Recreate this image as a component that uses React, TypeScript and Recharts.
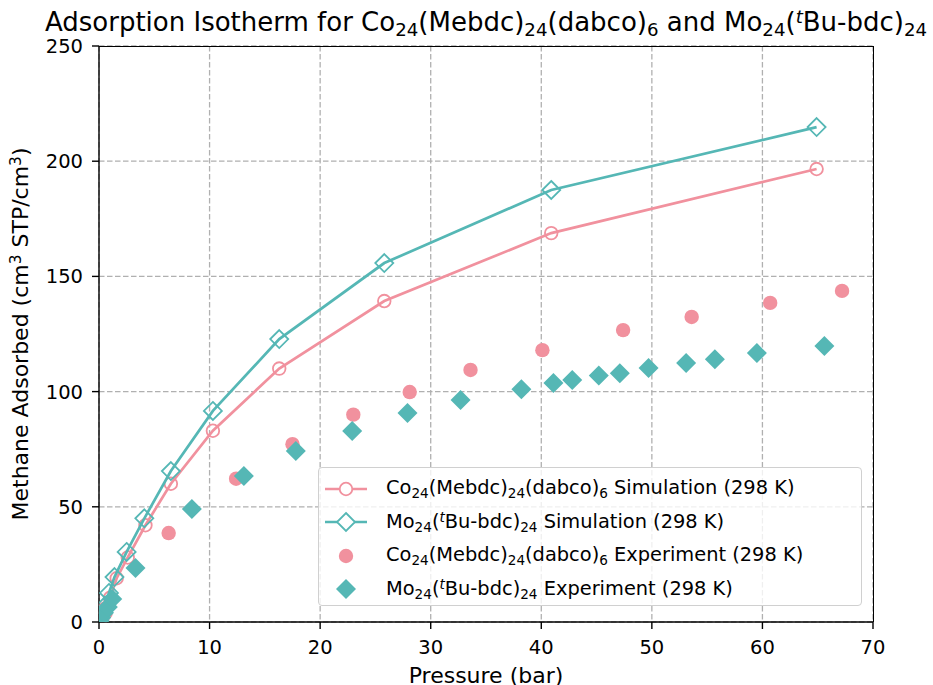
import React from "react";
import { ScatterChart, Scatter, XAxis, YAxis, CartesianGrid } from "recharts";

const PINK = "#F1919E";
const TEAL = "#55B7B5";

const xTicks = [0, 10, 20, 30, 40, 50, 60, 70];
const yTicks = [0, 50, 100, 150, 200, 250];

const coSimP = [0.1, 0.3, 0.6, 1.0, 1.6, 2.6, 4.2, 6.5, 10.3, 16.3, 25.8, 40.9, 64.9];
const coSimV = [1, 3, 6, 10.5, 19, 28, 42, 60, 83, 110, 139.3, 168.8, 196.6];
const moSimP = [0.1, 0.3, 0.55, 0.9, 1.4, 2.5, 4.1, 6.5, 10.3, 16.3, 25.8, 40.9, 64.9];
const moSimV = [1.5, 3.5, 7, 12.6, 19.5, 30.4, 45, 65.5, 91.6, 122.8, 155.8, 187.5, 214.8];
const coExpP = [0.1, 0.3, 0.6, 6.3, 12.4, 17.5, 23.0, 28.1, 33.6, 40.1, 47.4, 53.6, 60.7, 67.2];
const coExpV = [0.5, 2, 4, 38.6, 62.2, 77.2, 90, 99.8, 109.4, 118, 126.7, 132.4, 138.5, 143.7];
const moExpP = [0.05, 0.2, 0.45, 0.8, 1.2, 3.3, 8.4, 13.1, 17.8, 22.9, 27.9, 32.7, 38.2, 41.1, 42.8, 45.2, 47.1, 49.7, 53.1, 55.7, 59.5, 65.6];
const moExpV = [0.5, 2, 4, 6.5, 10, 23.4, 49, 63.4, 74.2, 82.9, 90.7, 96.3, 101, 103.7, 105, 107, 108, 110.2, 112.4, 114, 116.7, 119.8];

const zip = (p: number[], v: number[]) => p.map((x, i) => ({ x, y: v[i] }));
const coSim = zip(coSimP, coSimV);
const moSim = zip(moSimP, moSimV);
const coExp = zip(coExpP, coExpV);
const moExp = zip(moExpP, moExpV);

const FONT = "'DejaVu Sans', sans-serif";

const HollowCircle = (p: any) => (
  <circle cx={p.cx} cy={p.cy} r={6.3} fill="none" stroke={PINK} strokeWidth={1.8} />
);
const HollowDiamond = (p: any) => {
  const r = 9;
  return (
    <polygon
      points={`${p.cx},${p.cy - r} ${p.cx + r},${p.cy} ${p.cx},${p.cy + r} ${p.cx - r},${p.cy}`}
      fill="none"
      stroke={TEAL}
      strokeWidth={1.8}
    />
  );
};
const FilledCircle = (p: any) => <circle cx={p.cx} cy={p.cy} r={7.2} fill={PINK} />;
const FilledDiamond = (p: any) => {
  const r = 10;
  return (
    <polygon
      points={`${p.cx},${p.cy - r} ${p.cx + r},${p.cy} ${p.cx},${p.cy + r} ${p.cx - r},${p.cy}`}
      fill={TEAL}
    />
  );
};

const Sub = ({ children }: { children: React.ReactNode }) => (
  <span style={{ fontSize: "70%", position: "relative", top: "0.3em" }}>{children}</span>
);
const Sup = ({ children }: { children: React.ReactNode }) => (
  <span style={{ fontSize: "70%", position: "relative", top: "-0.45em", fontStyle: "italic" }}>{children}</span>
);

const legendItems = [
  { kind: "co-sim", label: <>Co<Sub>24</Sub>(Mebdc)<Sub>24</Sub>(dabco)<Sub>6</Sub> Simulation (298 K)</> },
  { kind: "mo-sim", label: <>Mo<Sub>24</Sub>(<Sup>t</Sup>Bu-bdc)<Sub>24</Sub> Simulation (298 K)</> },
  { kind: "co-exp", label: <>Co<Sub>24</Sub>(Mebdc)<Sub>24</Sub>(dabco)<Sub>6</Sub> Experiment (298 K)</> },
  { kind: "mo-exp", label: <>Mo<Sub>24</Sub>(<Sup>t</Sup>Bu-bdc)<Sub>24</Sub> Experiment (298 K)</> },
];

const LegendIcon = ({ kind }: { kind: string }) => (
  <svg width={46} height={24} style={{ display: "block" }}>
    {kind === "co-sim" && (
      <>
        <line x1={2} y1={12} x2={44} y2={12} stroke={PINK} strokeWidth={2.7} />
        <circle cx={23} cy={12} r={6.3} fill="white" stroke={PINK} strokeWidth={1.8} />
      </>
    )}
    {kind === "mo-sim" && (
      <>
        <line x1={2} y1={12} x2={44} y2={12} stroke={TEAL} strokeWidth={2.7} />
        <polygon points="23,3 32,12 23,21 14,12" fill="white" stroke={TEAL} strokeWidth={1.8} />
      </>
    )}
    {kind === "co-exp" && <circle cx={23} cy={12} r={7.2} fill={PINK} />}
    {kind === "mo-exp" && <polygon points="23,2 33,12 23,22 13,12" fill={TEAL} />}
  </svg>
);

export default function App() {
  return (
    <div style={{ position: "absolute", left: 0, top: 0, width: 933, height: 685, background: "white", fontFamily: FONT, overflow: "hidden" }}>
      <ScatterChart width={933} height={685} margin={{ top: 46, right: 60, bottom: 0, left: 39 }}>
        <CartesianGrid stroke="#b0b0b0" strokeDasharray="5.5 2.5" strokeWidth={1.3} horizontalValues={yTicks} verticalValues={xTicks} />
        <XAxis
          type="number"
          dataKey="x"
          domain={[0, 70]}
          ticks={xTicks}
          interval={0}
          height={63}
          allowDataOverflow
          tickSize={7}
          tickMargin={11}
          axisLine={{ stroke: "#000", strokeWidth: 1.4 }}
          tickLine={{ stroke: "#000", strokeWidth: 1.4 }}
          tick={{ fill: "#000", fontSize: 19.5, fontFamily: FONT }}
        />
        <YAxis
          type="number"
          dataKey="y"
          domain={[0, 250]}
          ticks={yTicks}
          interval={0}
          width={60}
          allowDataOverflow
          tickSize={7}
          tickMargin={9}
          axisLine={{ stroke: "#000", strokeWidth: 1.4 }}
          tickLine={{ stroke: "#000", strokeWidth: 1.4 }}
          tick={{ fill: "#000", fontSize: 19.5, fontFamily: FONT }}
        />
        <Scatter data={coSim} line={{ stroke: PINK, strokeWidth: 2.7 }} lineType="joint" shape={HollowCircle} isAnimationActive={false} />
        <Scatter data={moSim} line={{ stroke: TEAL, strokeWidth: 2.7 }} lineType="joint" shape={HollowDiamond} isAnimationActive={false} />
        <Scatter data={coExp} shape={FilledCircle} isAnimationActive={false} />
        <Scatter data={moExp} shape={FilledDiamond} isAnimationActive={false} />
      </ScatterChart>

      {/* frame top/right */}
      <div style={{ position: "absolute", left: 99, top: 46, width: 774.7, height: 576, boxSizing: "border-box", borderTop: "1.4px solid #000", borderRight: "1.4px solid #000", pointerEvents: "none" }} />

      {/* title */}
      <div style={{ position: "absolute", left: 486, top: 7, transform: "translateX(-50%)", whiteSpace: "nowrap", fontSize: 26, lineHeight: "30px", color: "#000" }}>
        Adsorption Isotherm for Co<Sub>24</Sub>(Mebdc)<Sub>24</Sub>(dabco)<Sub>6</Sub> and Mo<Sub>24</Sub>(<Sup>t</Sup>Bu-bdc)<Sub>24</Sub>
      </div>

      {/* y label */}
      <div style={{ position: "absolute", left: 22, top: 334, transform: "translate(-50%, -50%) rotate(-90deg)", whiteSpace: "nowrap", fontSize: 22, lineHeight: "24px", color: "#000" }}>
        Methane Adsorbed (cm<span style={{ fontSize: "70%", position: "relative", top: "-0.45em" }}>3</span> STP/cm<span style={{ fontSize: "70%", position: "relative", top: "-0.45em" }}>3</span>)
      </div>

      {/* x label */}
      <div style={{ position: "absolute", left: 486, top: 665, transform: "translateX(-50%)", whiteSpace: "nowrap", fontSize: 22, lineHeight: "22px", color: "#000" }}>
        Pressure (bar)
      </div>

      {/* legend */}
      <div style={{ position: "absolute", left: 318, top: 467, width: 544, height: 139, boxSizing: "border-box", border: "1.3px solid #d0d0d0", borderRadius: 4, background: "rgba(255,255,255,0.8)", padding: "4px 0 0 4px" }}>
        {legendItems.map((it, i) => (
          <div key={i} style={{ display: "flex", alignItems: "center", height: 33.5, whiteSpace: "nowrap", fontSize: 19.4, color: "#000" }}>
            <LegendIcon kind={it.kind} />
            <span style={{ marginLeft: 17, lineHeight: "22px" }}>{it.label}</span>
          </div>
        ))}
      </div>
    </div>
  );
}
